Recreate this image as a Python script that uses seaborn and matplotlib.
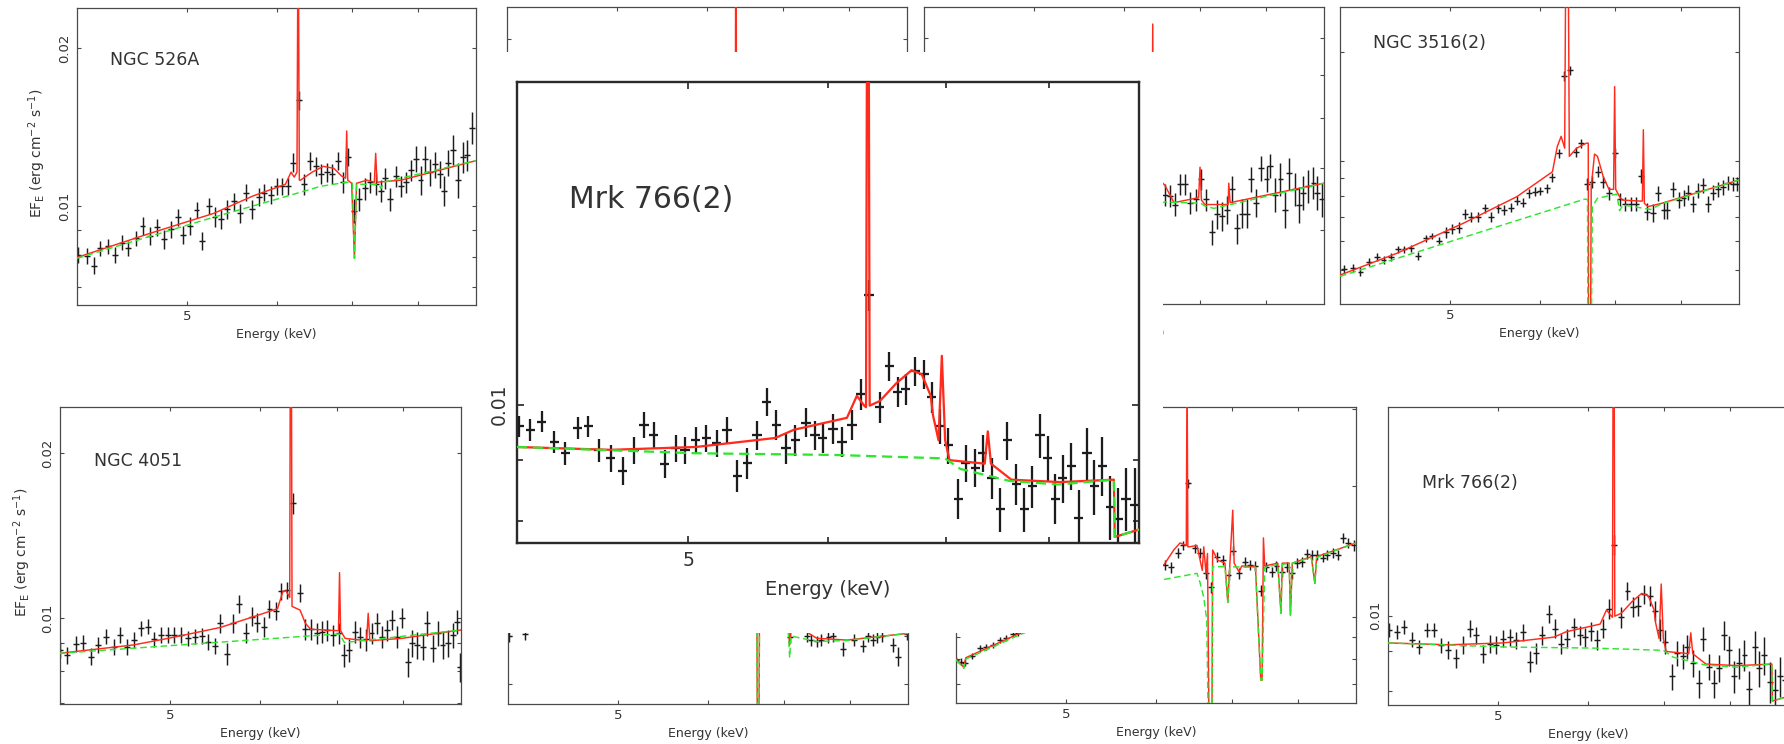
import numpy as np
import matplotlib
matplotlib.use("Agg")
import matplotlib.pyplot as plt
from matplotlib.ticker import FixedLocator, FixedFormatter, NullFormatter
import seaborn as sns

sns.set_theme(style="ticks")
plt.rcParams["font.family"] = ["DejaVu Sans"]
plt.rcParams["mathtext.default"] = "regular"

# Fluxes below are in units of 1e-3 erg cm^-2 s^-1, energies in keV.
FLUX_UNIT = 1e-3

# ---------------- NGC 526A ----------------
n526_e = [4.01, 4.08, 4.14, 4.19, 4.26, 4.32, 4.38, 4.44, 4.51, 4.57, 4.64, 4.71, 4.77, 4.84,
          4.91, 4.96, 5.03, 5.10, 5.16, 5.23, 5.29, 5.36, 5.43, 5.50, 5.57, 5.64, 5.71, 5.79,
          5.85, 5.93, 6.00, 6.07, 6.14, 6.21, 6.28, 6.35, 6.42, 6.50, 6.57, 6.65, 6.72, 6.80,
          6.87, 6.94, 7.03, 7.10, 7.18, 7.26, 7.34, 7.42, 7.48, 7.56, 7.65, 7.73, 7.81, 7.88,
          7.96, 8.04, 8.12, 8.20, 8.28, 8.36, 8.44, 8.51, 8.59, 8.67, 8.76, 8.84, 8.93]
n526_f = [8.07, 8.03, 7.70, 8.31, 8.39, 8.07, 8.52, 8.31, 8.68, 9.16, 8.77, 9.11, 8.64, 9.03,
          9.52, 8.81, 9.16, 9.83, 8.59, 10.0, 9.54, 9.43, 9.86, 10.2, 9.68, 10.6, 9.86, 10.4,
          10.6, 10.5, 10.9, 10.9, 10.9, 12.1, 15.9, 11.0, 12.2, 11.9, 11.5, 11.6, 11.5, 12.2,
          11.1, 12.4, 9.80, 10.3, 10.8, 11.1, 11.0, 10.7, 11.3, 10.3, 11.4, 10.9, 11.1, 11.7,
          12.3, 11.2, 12.3, 11.6, 12.0, 11.5, 10.7, 12.1, 12.8, 11.2, 12.4, 12.5, 14.1]
n526_err = [0.28, 0.28, 0.28, 0.28, 0.28, 0.28, 0.28, 0.28, 0.28, 0.35, 0.35, 0.35, 0.35, 0.35,
            0.35, 0.35, 0.35, 0.35, 0.35, 0.35, 0.40, 0.40, 0.40, 0.40, 0.40, 0.40, 0.40, 0.40,
            0.40, 0.40, 0.40, 0.40, 0.40, 0.50, 0.65, 0.50, 0.50, 0.50, 0.50, 0.50, 0.50, 0.50,
            0.50, 0.50, 0.52, 0.52, 0.52, 0.52, 0.52, 0.52, 0.52, 0.52, 0.52, 0.52, 0.52, 0.52,
            0.70, 0.70, 0.70, 0.70, 0.70, 0.70, 0.70, 0.70, 0.85, 0.85, 0.85, 0.85, 1.00]
n526_model_e = [4.00, 4.64, 5.28, 5.72, 6.11, 6.18, 6.22, 6.255, 6.27, 6.285, 6.30, 6.45, 6.60,
                6.74, 6.85, 6.905, 6.92, 6.935, 6.99, 7.03, 7.06, 7.21, 7.32, 7.34, 7.36, 7.73, 9.0]
n526_model_f = [7.98, 8.87, 9.68, 10.45, 11.0, 11.6, 11.35, 11.6, 40.0, 11.2, 11.2, 11.6, 11.9,
                11.8, 11.4, 11.3, 13.9, 11.2, 11.05, 7.95, 11.05, 11.2, 11.1, 12.6, 11.1, 11.2, 12.2]
n526_cont_e = [4.00, 5.28, 6.00, 6.56, 6.92, 7.00, 7.03, 7.06, 7.38, 7.42, 7.46, 9.0]
n526_cont_f = [7.95, 9.52, 10.3, 10.9, 11.1, 11.05, 7.95, 11.0, 11.0, 10.8, 11.1, 12.2]

# ---------------- NGC 4051 ----------------
n4051_e = [4.00, 4.06, 4.13, 4.19, 4.26, 4.32, 4.39, 4.46, 4.52, 4.58, 4.65, 4.71, 4.78, 4.84,
           4.91, 4.98, 5.04, 5.11, 5.18, 5.26, 5.33, 5.40, 5.47, 5.53, 5.61, 5.68, 5.75, 5.83,
           5.90, 5.96, 6.04, 6.11, 6.19, 6.26, 6.33, 6.41, 6.50, 6.56, 6.64, 6.72, 6.79, 6.87,
           6.95, 7.03, 7.11, 7.18, 7.27, 7.34, 7.43, 7.51, 7.59, 7.67, 7.75, 7.83, 7.91, 7.99,
           8.08, 8.15, 8.24, 8.33, 8.41, 8.50, 8.59, 8.67, 8.76, 8.85, 8.93, 8.99]
n4051_f = [8.74, 8.56, 8.97, 9.02, 8.50, 8.93, 9.25, 8.87, 9.31, 8.87, 9.12, 9.58, 9.64, 9.14,
           9.31, 9.31, 9.31, 9.31, 9.18, 9.25, 9.27, 9.05, 8.89, 9.78, 8.60, 9.78, 10.6, 9.40,
           10.06, 9.81, 9.64, 10.4, 10.3, 11.2, 11.25, 16.2, 11.1, 9.54, 9.54, 9.38, 9.44, 9.51,
           9.31, 9.38, 8.56, 8.74, 9.44, 9.22, 9.14, 9.38, 9.78, 9.25, 9.51, 9.92, 9.25, 10.0,
           8.32, 8.99, 8.93, 8.87, 9.78, 8.80, 9.38, 8.93, 8.99, 9.31, 9.85, 8.15]
n4051_err = [0.30, 0.30, 0.30, 0.30, 0.30, 0.30, 0.30, 0.30, 0.30, 0.30, 0.30, 0.30, 0.30, 0.30,
             0.30, 0.30, 0.30, 0.30, 0.30, 0.30, 0.30, 0.30, 0.30, 0.40, 0.40, 0.40, 0.40, 0.40,
             0.40, 0.40, 0.40, 0.40, 0.40, 0.40, 0.40, 0.70, 0.42, 0.42, 0.42, 0.42, 0.42, 0.42,
             0.42, 0.42, 0.42, 0.42, 0.42, 0.42, 0.42, 0.42, 0.42, 0.42, 0.42, 0.42, 0.42, 0.42,
             0.50, 0.50, 0.50, 0.50, 0.50, 0.50, 0.50, 0.50, 0.50, 0.50, 0.50, 0.50]
n4051_model_e = [3.99, 4.64, 5.03, 5.53, 5.92, 6.21, 6.28, 6.32, 6.365, 6.375, 6.385, 6.395, 6.50,
                 6.57, 6.64, 7.025, 7.04, 7.055, 7.12, 7.435, 7.46, 7.485, 7.98, 9.0]
n4051_model_f = [8.62, 8.93, 9.22, 9.61, 10.06, 10.4, 11.2, 11.2, 10.9, 40.0, 40.0, 10.5, 10.34,
                 9.78, 9.54, 9.48, 12.1, 9.48, 9.18, 9.09, 10.2, 9.09, 9.18, 9.51]
n4051_cont_e = [3.99, 7.01, 7.04, 7.11, 9.0]
n4051_cont_f = [8.62, 9.35, 9.35, 9.02, 9.51]

# ---------------- NGC 3516(2) ----------------
n3516_e = [4.03, 4.11, 4.17, 4.24, 4.31, 4.37, 4.44, 4.50, 4.56, 4.62, 4.69, 4.76, 4.82, 4.89,
           4.96, 5.02, 5.09, 5.16, 5.22, 5.30, 5.37, 5.44, 5.52, 5.58, 5.66, 5.73, 5.80, 5.87,
           5.94, 6.01, 6.09, 6.16, 6.24, 6.31, 6.38, 6.46, 6.53, 6.61, 6.68, 6.76, 6.83, 6.91,
           6.99, 7.07, 7.14, 7.23, 7.30, 7.38, 7.47, 7.55, 7.64, 7.72, 7.78, 7.87, 7.96, 8.04,
           8.12, 8.19, 8.28, 8.36, 8.45, 8.54, 8.62, 8.71, 8.80, 8.89, 8.97]
n3516_f = [5.02, 5.07, 4.95, 5.27, 5.44, 5.33, 5.44, 5.70, 5.70, 5.74, 5.47, 6.12, 6.21, 6.02,
           6.35, 6.49, 6.55, 7.14, 7.02, 6.99, 7.40, 6.99, 7.40, 7.32, 7.43, 7.77, 7.67, 8.14,
           8.23, 8.28, 8.40, 9.01, 10.5, 17.2, 17.8, 10.6, 11.2, 8.64, 8.77, 9.34, 8.77, 8.14,
           10.5, 7.85, 7.61, 7.61, 7.61, 9.11, 7.25, 7.20, 8.14, 7.32, 7.32, 8.35, 7.80, 7.89,
           8.18, 7.61, 8.28, 8.58, 7.61, 8.18, 8.35, 8.46, 8.71, 8.64, 8.64]
n3516_err = [0.13, 0.13, 0.13, 0.13, 0.13, 0.13, 0.13, 0.13, 0.13, 0.13, 0.13, 0.13, 0.13, 0.13,
             0.22, 0.22, 0.22, 0.22, 0.22, 0.22, 0.22, 0.22, 0.22, 0.22, 0.22, 0.22, 0.22, 0.22,
             0.22, 0.22, 0.22, 0.28, 0.28, 0.55, 0.55, 0.33, 0.33, 0.33, 0.33, 0.33, 0.33, 0.33,
             0.33, 0.33, 0.33, 0.33, 0.33, 0.40, 0.40, 0.40, 0.40, 0.40, 0.40, 0.40, 0.40, 0.40,
             0.40, 0.40, 0.40, 0.40, 0.40, 0.40, 0.40, 0.40, 0.40, 0.40, 0.40]
n3516_model_e = [4.00, 4.49, 5.14, 5.73, 6.16, 6.22, 6.27, 6.315, 6.33, 6.36, 6.375, 6.47, 6.60,
                 6.625, 6.63, 6.655, 6.665, 6.71, 6.75, 6.83, 6.91, 6.975, 6.99, 7.005, 7.06,
                 7.10, 7.36, 7.395, 7.41, 7.425, 7.48, 7.69, 9.0]
n3516_model_f = [4.84, 5.56, 6.73, 7.97, 9.34, 10.95, 11.7, 10.85, 40.0, 40.0, 10.3, 10.85, 11.2,
                 11.2, 3.0, 3.0, 8.49, 10.45, 10.3, 9.05, 8.35, 8.35, 16.05, 8.35, 7.97,
                 7.80, 7.75, 7.75, 12.2, 7.64, 7.48, 7.64, 8.86]
n3516_cont_e = [4.00, 6.57, 6.615, 6.62, 6.665, 6.68, 6.75, 7.02, 7.06, 7.11, 7.52, 7.69, 9.0]
n3516_cont_f = [4.80, 7.84, 7.84, 3.0, 3.0, 7.48, 7.89, 8.10, 7.29, 7.56, 7.35, 7.61, 8.86]

# ---------------- Mrk 766(2) ----------------
mrk_e = [4.01, 4.07, 4.13, 4.20, 4.26, 4.33, 4.39, 4.45, 4.52, 4.59, 4.66, 4.72, 4.78, 4.85,
         4.92, 4.98, 5.05, 5.12, 5.19, 5.26, 5.33, 5.40, 5.47, 5.54, 5.61, 5.68, 5.75, 5.83,
         5.90, 5.96, 6.04, 6.11, 6.19, 6.26, 6.33, 6.42, 6.50, 6.57, 6.64, 6.72, 6.80, 6.87,
         6.94, 7.02, 7.11, 7.18, 7.27, 7.34, 7.43, 7.51, 7.58, 7.67, 7.75, 7.83, 7.91, 7.99,
         8.07, 8.15, 8.24, 8.32, 8.41, 8.49, 8.58, 8.67, 8.76, 8.85, 8.95]
mrk_f = [9.59, 9.52, 9.68, 9.31, 9.11, 9.57, 9.59, 9.16, 9.02, 8.81, 9.16, 9.62, 9.43, 8.92,
         9.20, 9.16, 9.34, 9.38, 9.29, 9.52, 8.72, 8.94, 9.43, 10.05, 9.62, 9.20, 9.34, 9.66,
         9.43, 9.38, 9.55, 9.31, 9.62, 10.20, 12.34, 9.95, 10.76, 10.25, 10.30, 10.66, 10.60, 10.15,
         9.59, 9.25, 8.35, 8.94, 8.86, 9.11, 8.68, 8.18, 9.34, 8.59, 8.18, 8.55, 9.43, 9.02,
         8.35, 8.68, 8.89, 8.04, 9.11, 8.55, 8.89, 8.22, 8.03, 8.35, 8.25]
mrk_err = [0.20, 0.20, 0.20, 0.20, 0.20, 0.20, 0.20, 0.20, 0.24, 0.24, 0.24, 0.24, 0.24, 0.24,
           0.24, 0.24, 0.24, 0.24, 0.24, 0.24, 0.27, 0.27, 0.27, 0.27, 0.27, 0.27, 0.27, 0.27,
           0.27, 0.27, 0.27, 0.27, 0.27, 0.30, 0.37, 0.30, 0.30, 0.30, 0.30, 0.30, 0.30, 0.30,
           0.32, 0.32, 0.32, 0.32, 0.32, 0.32, 0.34, 0.34, 0.34, 0.34, 0.34, 0.34, 0.40, 0.40,
           0.40, 0.40, 0.40, 0.45, 0.45, 0.45, 0.50, 0.50, 0.50, 0.50, 0.60]
mrk_model_e = [4.00, 4.52, 5.05, 5.60, 5.74, 6.15, 6.23, 6.29, 6.305, 6.32, 6.335, 6.42, 6.56,
               6.69, 6.78, 6.86, 6.88, 6.93, 6.96, 6.99, 7.03, 7.36, 7.39, 7.42, 7.62, 8.12,
               8.71, 8.72, 9.0]
mrk_model_f = [9.22, 9.17, 9.22, 9.38, 9.53, 9.75, 10.17, 9.98, 9.95, 40.0, 9.98, 10.07, 10.42,
               10.68, 10.60, 10.17, 9.80, 9.34, 10.98, 9.34, 8.99, 8.93, 9.50, 8.93, 8.66, 8.62,
               8.66, 7.76, 7.87]
mrk_cont_e = [4.00, 5.05, 6.06, 6.99, 7.13, 7.60, 8.10, 8.71, 8.72, 9.0]
mrk_cont_f = [9.22, 9.11, 9.08, 9.02, 8.84, 8.64, 8.58, 8.66, 7.76, 7.87]

# ---------------- upper middle spectrum ----------------
mid1_model_e = [4.00, 6.355, 6.362, 6.37, 9.0]
mid1_model_f = [12.0, 12.5, 60.0, 12.5, 13.0]

# ---------------- lower middle spectrum ----------------
mid2_e = [4.01, 4.14, 7.08, 7.33, 7.40, 7.48, 7.55, 7.66, 7.73, 7.89, 8.06, 8.22, 8.30, 8.38,
          8.46, 8.54, 8.73, 8.82, 8.98]
mid2_f = [8.00, 8.04, 7.98, 8.00, 7.91, 7.88, 7.91, 7.98, 8.00, 7.71, 7.91, 7.78, 8.00, 7.91,
          7.98, 8.00, 7.80, 7.55, 8.04]
mid2_err = [0.13, 0.13, 0.13, 0.13, 0.13, 0.13, 0.13, 0.13, 0.13, 0.15, 0.13, 0.13, 0.13, 0.13,
            0.13, 0.13, 0.15, 0.20, 0.13]
mid2_model_e = [4.00, 6.60, 6.625, 6.635, 6.65, 6.66, 7.06, 7.08, 7.10, 7.25, 7.35, 7.48, 7.95, 9.0]
mid2_model_f = [8.20, 8.60, 8.60, 5.00, 5.00, 8.60, 8.20, 7.80, 8.20, 8.30, 8.07, 7.95, 7.91, 8.06]
mid2_cont_e = [4.00, 6.60, 6.625, 6.635, 6.65, 6.66, 7.06, 7.08, 7.10, 7.48, 7.95, 9.0]
mid2_cont_f = [8.15, 8.50, 8.50, 5.00, 5.00, 8.50, 8.10, 7.53, 8.00, 7.88, 7.90, 8.06]

# ---------------- upper right-middle spectrum ----------------
rmid1_e = [6.52, 6.59, 6.65, 6.72, 6.79, 6.86, 6.94, 7.01, 7.08, 7.17, 7.24, 7.32, 7.39, 7.47,
           7.55, 7.62, 7.70, 7.76, 7.84, 7.92, 8.01, 8.07, 8.15, 8.24, 8.31, 8.39, 8.48, 8.56,
           8.63, 8.72, 8.81, 8.88, 8.97]
rmid1_f = [4.54, 4.53, 4.39, 4.72, 4.72, 4.42, 4.47, 4.81, 4.47, 3.97, 4.24, 4.21, 4.31, 4.64,
           4.03, 4.25, 4.25, 4.81, 4.42, 5.00, 4.82, 5.05, 4.55, 4.81, 4.31, 4.91, 4.64, 4.39,
           4.58, 4.69, 4.75, 4.58, 4.47]
rmid1_err = [0.18, 0.18, 0.18, 0.18, 0.18, 0.18, 0.18, 0.18, 0.18, 0.18, 0.22, 0.22, 0.22, 0.22,
             0.22, 0.22, 0.22, 0.22, 0.22, 0.22, 0.22, 0.22, 0.28, 0.28, 0.28, 0.28, 0.28, 0.28,
             0.28, 0.28, 0.28, 0.28, 0.28]
rmid1_model_e = [4.00, 6.30, 6.35, 6.36, 6.37, 6.45, 6.52, 6.64, 6.98, 7.00, 7.02, 7.07, 7.41,
                 7.42, 7.44, 9.0]
rmid1_model_f = [3.60, 4.80, 4.85, 8.40, 4.85, 4.80, 4.70, 4.42, 4.50, 5.02, 4.46, 4.39, 4.39,
                 4.74, 4.42, 4.74]
rmid1_cont_e = [4.00, 6.52, 7.01, 7.08, 7.20, 9.0]
rmid1_cont_f = [3.50, 4.43, 4.41, 4.36, 4.33, 4.74]

# ---------------- lower right-middle spectrum ----------------
rmid2_e = [4.00, 4.04, 4.07, 4.13, 4.20, 4.25, 4.31, 4.37, 4.43, 4.49, 4.54,
           6.11, 6.18, 6.27, 6.34, 6.40, 6.49, 6.56, 6.64, 6.71, 6.79, 6.87, 6.95, 7.02, 7.10,
           7.18, 7.26, 7.34, 7.42, 7.50, 7.59, 7.66, 7.74, 7.82, 7.91, 7.99, 8.07, 8.15, 8.24,
           8.32, 8.41, 8.49, 8.59, 8.67, 8.77, 8.86, 8.96]
rmid2_f = [7.97, 7.89, 7.85, 8.14, 8.47, 8.55, 8.62, 8.85, 8.93, 9.14, 9.17,
           13.2, 13.0, 14.05, 14.6, 20.3, 14.4, 14.05, 12.6, 11.7, 13.76, 13.5, 12.5, 14.2, 12.6,
           13.4, 13.2, 13.1, 11.5, 13.05, 12.7, 13.1, 12.7, 13.05, 12.6, 13.3, 13.4, 13.96, 13.9,
           13.9, 13.7, 13.9, 14.05, 13.9, 15.2, 14.8, 14.6]
rmid2_err = [0.14, 0.14, 0.14, 0.14, 0.14, 0.14, 0.14, 0.14, 0.14, 0.14, 0.14,
             0.35, 0.35, 0.35, 0.35, 0.50, 0.35, 0.35, 0.35, 0.35, 0.35, 0.35, 0.35, 0.35, 0.35,
             0.35, 0.35, 0.35, 0.35, 0.35, 0.35, 0.35, 0.35, 0.35, 0.35, 0.35, 0.35, 0.35, 0.35,
             0.35, 0.35, 0.35, 0.35, 0.35, 0.40, 0.40, 0.40]
rmid2_model_e = [4.00, 4.065, 4.08, 4.55, 6.10, 6.22, 6.30, 6.38, 6.39, 6.40, 6.42, 6.52, 6.59,
                 6.61, 6.64, 6.66, 6.695, 6.715, 6.73, 6.80, 6.90, 6.94, 6.97, 7.01, 7.03, 7.10,
                 7.14, 7.34, 7.42, 7.44, 7.46, 7.48, 7.68, 7.73, 7.75, 7.86, 7.88, 7.91, 8.22,
                 8.28, 8.31, 9.0]
rmid2_model_f = [8.00, 7.66, 8.06, 9.17, 13.2, 14.26, 14.8, 14.6, 40.0, 14.5, 14.5, 14.6, 12.8,
                 14.5, 12.6, 14.0, 3.0, 3.0, 14.26, 13.5, 13.3, 10.8, 13.3, 17.6, 13.3, 12.7,
                 13.1, 13.05, 7.16, 7.16, 15.2, 13.1, 13.3, 10.2, 13.3, 13.3, 10.1, 13.3, 13.76,
                 11.95, 13.76, 14.8]
rmid2_cont_e = [4.00, 4.065, 4.08, 4.55, 6.10, 6.52, 6.56, 6.61, 6.65, 6.695, 6.715, 6.73, 6.90,
                6.94, 6.97, 7.34, 7.42, 7.44, 7.48, 7.68, 7.73, 7.75, 7.86, 7.88, 7.91, 8.22,
                8.28, 8.31, 9.0]
rmid2_cont_f = [7.97, 7.62, 8.00, 9.10, 12.2, 12.6, 12.0, 11.1, 9.84, 3.0, 3.0, 13.05, 13.05,
                10.8, 13.05, 13.0, 7.16, 7.16, 13.0, 13.2, 10.2, 13.2, 13.3, 10.1, 13.3, 13.7,
                11.95, 13.7, 14.8]

# ---------------- axes conventions ----------------
E_RANGE = (4.0, 9.0)
E_MAJOR = [5]
E_MINOR = [6, 7, 8]
F_MAJOR = [0.01, 0.02]
F_MINOR = [0.003, 0.004, 0.005, 0.006, 0.007, 0.008, 0.009, 0.03, 0.04]
BIN_HALF_DEX = 0.0026

W, H = 1784, 744
RED = "#ff2b1c"
GREEN = "#2fe62f"
INK = "#1c1c1c"
FRAME = "#4a4a4a"
TEXT = "#333333"
YLABEL = r"EF$_{\rm E}$ (erg cm$^{-2}$ s$^{-1}$)"


def box(x0, y0, x1, y1):
    return [x0 / W, 1 - y1 / H, (x1 - x0) / W, (y1 - y0) / H]


def spectrum_axes(fig, rect, ylim, labelled=(), s=1.0, edge=FRAME, edge_lw=0.9, z=1):
    ax = fig.add_axes(box(*rect))
    ax.set_zorder(z)
    ax.set_facecolor("white")
    ax.set_xscale("log")
    ax.set_yscale("log")
    ax.set_xlim(*E_RANGE)
    ax.set_ylim(*ylim)
    ax.xaxis.set_major_locator(FixedLocator(E_MAJOR))
    ax.xaxis.set_major_formatter(FixedFormatter([str(v) for v in E_MAJOR]))
    ax.xaxis.set_minor_locator(FixedLocator(E_MINOR))
    ax.xaxis.set_minor_formatter(NullFormatter())
    majors = [v for v in F_MAJOR if ylim[0] <= v <= ylim[1]]
    minors = [v for v in F_MINOR if ylim[0] <= v <= ylim[1]]
    ax.yaxis.set_major_locator(FixedLocator(majors))
    ax.yaxis.set_major_formatter(FixedFormatter([f"{v:g}" if v in labelled else "" for v in majors]))
    ax.yaxis.set_minor_locator(FixedLocator(minors))
    ax.yaxis.set_minor_formatter(NullFormatter())
    for sp in ax.spines.values():
        sp.set_color(edge)
        sp.set_linewidth(edge_lw * s)
    ax.tick_params(which="both", direction="in", top=True, right=True, color=edge,
                   width=0.8 * s, labelcolor=TEXT, labelsize=9.5 * s)
    ax.tick_params(which="major", length=3.2 * s)
    ax.tick_params(which="minor", length=2.6 * s)
    ax.tick_params(axis="x", pad=3.5 * s)
    ax.tick_params(axis="y", pad=4.0 * s, labelrotation=90)
    for lbl in ax.get_yticklabels():
        lbl.set_va("center")
    ax.set_xlabel("Energy (keV)", fontsize=9 * s, color=TEXT)
    ax.xaxis.set_label_coords(0.5, -0.099)
    ax.xaxis.label.set_va("center")
    ax.grid(False)
    return ax


def draw_spectrum(ax, e=None, f=None, err=None, me=None, mf=None, ce=None, cf=None, s=1.0):
    if e is not None:
        e = np.asarray(e)
        half = e * (10 ** BIN_HALF_DEX - 1)
        ax.errorbar(e, np.asarray(f) * FLUX_UNIT, yerr=np.asarray(err) * FLUX_UNIT,
                    xerr=half, fmt="none", ecolor=INK, elinewidth=1.05 * s,
                    capsize=0, zorder=2)
    if me is not None:
        sns.lineplot(x=np.asarray(me), y=np.asarray(mf) * FLUX_UNIT, ax=ax, color=RED,
                     lw=1.05 * s, sort=False, estimator=None, zorder=3)
    if ce is not None:
        sns.lineplot(x=np.asarray(ce), y=np.asarray(cf) * FLUX_UNIT, ax=ax, color=GREEN,
                     lw=1.05 * s, sort=False, estimator=None, zorder=4,
                     linestyle=(0, (4.5, 2.5)))
    ax.set_xlabel("Energy (keV)")
    ax.set_ylabel("")


def flux_label(ax, x):
    ax.set_ylabel(YLABEL, fontsize=10, color=TEXT)
    ax.yaxis.set_label_coords(x, 0.51)
    ax.yaxis.label.set_va("center")


def name_tag(ax, text, x, y, size=12.5):
    ax.text(x, y, text, transform=ax.transAxes, fontsize=size, color=TEXT,
            ha="left", va="center")


fig = plt.figure(figsize=(W / 100, H / 100), dpi=100)
fig.patch.set_facecolor("white")

# top row
ax = spectrum_axes(fig, (77, 8, 476, 305), (0.006478, 0.02383), labelled=(0.01, 0.02))
draw_spectrum(ax, n526_e, n526_f, n526_err, n526_model_e, n526_model_f, n526_cont_e, n526_cont_f)
flux_label(ax, -0.10)
name_tag(ax, "NGC 526A", 0.083, 0.825)

ax = spectrum_axes(fig, (507, 7, 907, 305), (0.00626, 0.0230))
draw_spectrum(ax, me=mid1_model_e, mf=mid1_model_f)

ax = spectrum_axes(fig, (924, 7, 1324, 304), (0.00307, 0.00893))
draw_spectrum(ax, rmid1_e, rmid1_f, rmid1_err, rmid1_model_e, rmid1_model_f, rmid1_cont_e, rmid1_cont_f)

ax = spectrum_axes(fig, (1340, 7, 1739, 304), (0.004027, 0.02663))
draw_spectrum(ax, n3516_e, n3516_f, n3516_err, n3516_model_e, n3516_model_f, n3516_cont_e, n3516_cont_f)
name_tag(ax, "NGC 3516(2)", 0.083, 0.879)

# bottom row
ax = spectrum_axes(fig, (60, 407, 461, 704), (0.006968, 0.02427), labelled=(0.01, 0.02))
draw_spectrum(ax, n4051_e, n4051_f, n4051_err, n4051_model_e, n4051_model_f, n4051_cont_e, n4051_cont_f)
flux_label(ax, -0.095)
name_tag(ax, "NGC 4051", 0.085, 0.818)

ax = spectrum_axes(fig, (508, 407, 908, 704), (0.00662, 0.01514))
draw_spectrum(ax, mid2_e, mid2_f, mid2_err, mid2_model_e, mid2_model_f, mid2_cont_e, mid2_cont_f)

ax = spectrum_axes(fig, (956, 407, 1356, 703), (0.006343, 0.03039))
draw_spectrum(ax, rmid2_e, rmid2_f, rmid2_err, rmid2_model_e, rmid2_model_f, rmid2_cont_e, rmid2_cont_f)

ax = spectrum_axes(fig, (1388, 407, 1788, 705), (0.00767, 0.01856), labelled=(0.01,))
draw_spectrum(ax, mrk_e, mrk_f, mrk_err, mrk_model_e, mrk_model_f, mrk_cont_e, mrk_cont_f)
name_tag(ax, "Mrk 766(2)", 0.085, 0.745)

# enlarged Mrk 766(2) inset on its own white sheet
sheet = fig.add_axes(box(480, 52, 1163, 633))
sheet.set_zorder(5)
sheet.set_facecolor("white")
sheet.set_xticks([])
sheet.set_yticks([])
for sp in sheet.spines.values():
    sp.set_visible(False)

S = 1.555
ax = spectrum_axes(fig, (517, 82, 1139, 543), (0.00767, 0.01856), labelled=(0.01,),
                   s=S, edge="#2a2a2a", edge_lw=1.1, z=6)
ax.tick_params(labelsize=13.5)
draw_spectrum(ax, mrk_e, mrk_f, mrk_err, mrk_model_e, mrk_model_f, mrk_cont_e, mrk_cont_f, s=S)
ax.set_xlabel("Energy (keV)", fontsize=14, color=TEXT)
ax.xaxis.set_label_coords(0.5, -0.0998)
ax.xaxis.label.set_va("center")
name_tag(ax, "Mrk 766(2)", 0.084, 0.746, size=21.5)

fig.savefig("out.png", dpi=100, facecolor="white")
